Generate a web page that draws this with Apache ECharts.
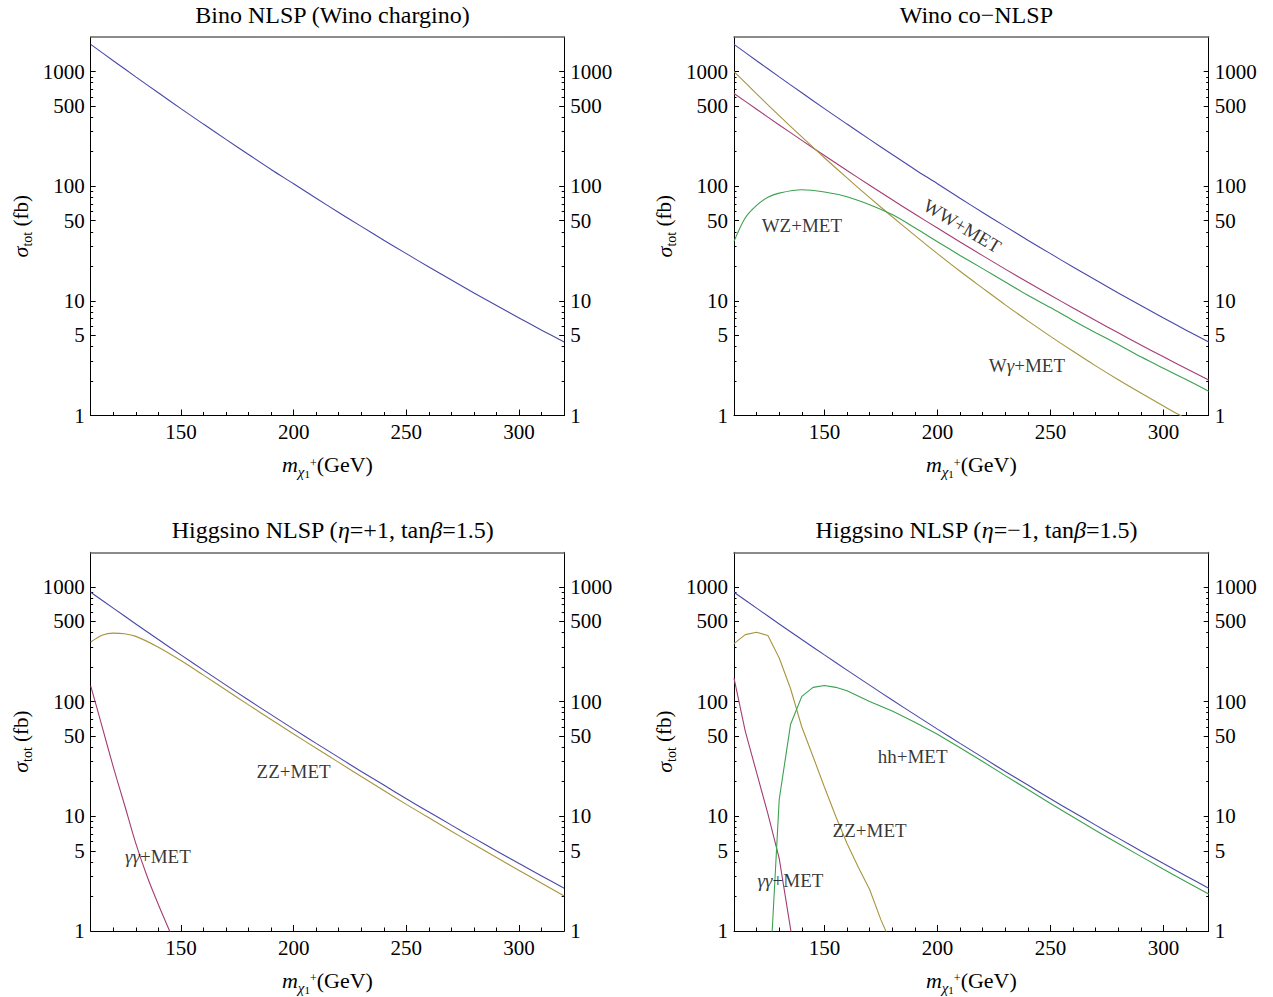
<!DOCTYPE html>
<html>
<head>
<meta charset="utf-8">
<script src="https://cdn.jsdelivr.net/npm/echarts@6/dist/echarts.min.js"></script>
<style>
  html, body { margin: 0; padding: 0; background: #fff; }
  #chart { width: 1273px; height: 997px; }
</style>
</head>
<body>
<div id="chart"></div>
<script>
// ---- axis ticks -----------------------------------------------------------
const yTickValues = [1, 5, 10, 50, 100, 500, 1000];
const yMinorValues = [2, 3, 4, 6, 7, 8, 9, 20, 30, 40, 60, 70, 80, 90, 200, 300, 400, 600, 700, 800, 900];
const xTickValues = [150, 200, 250, 300];

// ---- chargino mass grids (GeV) -------------------------------------------
const massGrid = [110, 120, 130, 140, 150, 160, 170, 180, 190, 200, 210, 220, 230, 240, 250, 260, 270, 280, 290, 300, 310, 320];
const massLowFine = [110, 115, 120, 125, 130, 140, 150, 160, 170, 180, 190, 200, 210, 220, 230, 240, 250, 260, 270, 280, 290, 300, 310, 320];
const massFine = [110, 115, 120, 125, 130, 135, 140, 145, 150, 155, 160, 165, 170, 175, 180];
const massGammaPlus = [110, 115, 120, 125, 130, 135, 140, 145, 150];
const massGammaMinus = [110, 115, 120, 125, 130, 135, 140];
const massHH = [125, 130, 135, 140, 145, 150, 155, 160, 170, 180, 190, 200, 210, 220, 230, 240, 250, 260, 270, 280, 290, 300, 310, 320];

// ---- cross sections (fb) --------------------------------------------------
// Wino-like chargino production (total)
const winoTotal = [1726, 1242, 898, 652, 475, 348, 256, 189, 140, 105, 78.4, 59.0, 44.6, 33.8, 25.8, 19.7, 15.2, 11.7, 9.1, 7.09, 5.55, 4.37];
// Wino co-NLSP channels
const winoWW = [644, 469, 342, 251, 185, 137, 102, 76.1, 57.1, 43.1, 32.6, 24.8, 18.9, 14.5, 11.2, 8.66, 6.73, 5.26, 4.12, 3.25, 2.57, 2.04];
const winoWgamma = [1000, 639, 412, 269, 177, 118, 79.5, 54.1, 37.2, 25.8, 18.1, 12.9, 9.23, 6.69, 4.9, 3.63, 2.71, 2.05, 1.57, 1.21, 0.94, 0.75];
const winoWZ = [33, 53, 68, 80, 87, 93, 89, 81, 69, 56.5, 43.4, 32.8, 24.9, 19.1, 14.6, 11.2, 8.73, 6.75, 5.28, 4.16, 3.25, 2.58, 2.06, 1.63];
// Higgsino-like production (total)
const higgsinoTotal = [897, 652, 475, 347, 255, 188, 139, 103, 76.9, 57.5, 43.2, 32.6, 24.6, 18.7, 14.2, 10.9, 8.37, 6.45, 4.99, 3.87, 3.02, 2.36];
// Higgsino NLSP, eta = +1
const zzPlus = [330, 378, 395, 390, 370, 298, 228, 170, 126, 93.5, 69.8, 52.2, 39.2, 29.5, 22.2, 16.8, 12.7, 9.7, 7.41, 5.68, 4.37, 3.37, 2.61, 2.02];
const gammaGammaPlus = [137, 61, 27, 12.6, 5.8, 3.0, 1.7, 1.0, 0.6];
// Higgsino NLSP, eta = -1
const zzMinus = [320, 383, 402, 376, 240, 130, 60, 33, 18, 10, 5.8, 3.6, 2.3, 1.25, 0.75];
const gammaGammaMinus = [160, 55, 24, 10.5, 4.3, 1.05, 0.22];
const hhMinus = [0.2, 14, 63, 111, 133, 138, 133, 124, 100, 82.6, 66.1, 51.8, 39.5, 30.0, 22.6, 17.1, 12.9, 9.86, 7.53, 5.8, 4.47, 3.46, 2.69, 2.10];

// ---- texts ------------------------------------------------------------------
const panelTitles = [
  'Bino NLSP (Wino chargino)',
  'Wino co\u2212NLSP',
  'Higgsino NLSP ({g|\u03b7}=+1, tan{g|\u03b2}=1.5)',
  'Higgsino NLSP ({g|\u03b7}=\u22121, tan{g|\u03b2}=1.5)'
];
const xAxisName = '{m|m}{c|\u03c7}{o|1}{p|+}(GeV)';
const yAxisName = '{s|\u03c3}{t|tot} (fb)';

// channel annotations: [panel, text, mass, cross section, rotation]
const channelNotes = [
  [1, 'WZ+MET', 140, 45, 0],
  [1, 'WW+MET', 211, 45, -31],
  [1, 'W{g|\u03b3}+MET', 239.6, 2.75, 0],
  [2, 'ZZ+MET', 200, 24.8, 0],
  [2, '{g|\u03b3\u03b3}+MET', 139.8, 4.5, 0],
  [3, 'hh+MET', 189, 33, 0],
  [3, 'ZZ+MET', 170, 7.5, 0],
  [3, '{g|\u03b3\u03b3}+MET', 135, 2.75, 0]
];

// ---- styling ------------------------------------------------------------------
const FONT = "'Liberation Serif', 'Times New Roman', 'DejaVu Serif', serif";
const C_TOTAL = '#4848aa';
const C_RED = '#a43c74';
const C_OLIVE = '#a8953f';
const C_GREEN = '#3ba04f';

const pairs = (m, v) => m.map((x, i) => [x, v[i]]);

const panels = [
  [
    { m: massGrid, v: winoTotal, color: C_TOTAL, smooth: 0.3 }
  ],
  [
    { m: massGrid, v: winoTotal, color: C_TOTAL, smooth: 0.3 },
    { m: massGrid, v: winoWW, color: C_RED, smooth: 0.3 },
    { m: massGrid, v: winoWgamma, color: C_OLIVE, smooth: 0.3 },
    { m: massLowFine, v: winoWZ, color: C_GREEN, smooth: 0.3 }
  ],
  [
    { m: massGrid, v: higgsinoTotal, color: C_TOTAL, smooth: 0.3 },
    { m: massLowFine, v: zzPlus, color: C_OLIVE, smooth: 0.3 },
    { m: massGammaPlus, v: gammaGammaPlus, color: C_RED, smooth: 0.3 }
  ],
  [
    { m: massGrid, v: higgsinoTotal, color: C_TOTAL, smooth: 0.3 },
    { m: massFine, v: zzMinus, color: C_OLIVE, smooth: false },
    { m: massGammaMinus, v: gammaGammaMinus, color: C_RED, smooth: false },
    { m: massHH, v: hhMinus, color: C_GREEN, smooth: false }
  ]
];

const frames = [
  { left: 90.7, top: 37, width: 473.5, height: 378.5 },
  { left: 734, top: 37, width: 474.7, height: 378.5 },
  { left: 90.7, top: 552.3, width: 473.5, height: 378.7 },
  { left: 734, top: 552.3, width: 474.7, height: 378.7 }
];

const nameRich = {
  s: { fontFamily: FONT, fontStyle: 'italic', fontSize: 22, lineHeight: 28, color: '#000' },
  t: { fontFamily: FONT, fontSize: 14, lineHeight: 20, verticalAlign: 'bottom', color: '#000' },
  m: { fontFamily: FONT, fontStyle: 'italic', fontSize: 22, lineHeight: 30, color: '#000' },
  c: { fontFamily: FONT, fontStyle: 'italic', fontSize: 15, lineHeight: 22, verticalAlign: 'bottom', color: '#000' },
  o: { fontFamily: FONT, fontSize: 11, lineHeight: 14, verticalAlign: 'bottom', color: '#000' },
  p: { fontFamily: FONT, fontSize: 12, verticalAlign: 'middle', padding: [0, 0, 4, 0], color: '#000' }
};

const tickLabel = { fontFamily: FONT, fontSize: 21, color: '#000', formatter: (v) => String(v) };
const blackLine = { color: '#000', width: 1 };

const option = {
  animation: false,
  backgroundColor: '#fff',
  title: [],
  grid: [],
  xAxis: [],
  yAxis: [],
  series: []
};

frames.forEach((f, g) => {
  option.grid.push({ left: f.left, top: f.top, width: f.width, height: f.height, containLabel: false });

  option.title.push({
    text: panelTitles[g],
    left: f.left + f.width / 2,
    top: f.top - 39,
    textAlign: 'center',
    textStyle: {
      fontFamily: FONT, fontSize: 24, fontWeight: 'normal', color: '#000',
      rich: { g: { fontFamily: FONT, fontSize: 24, fontStyle: 'italic', color: '#000' } }
    }
  });

  const xBase = option.xAxis.length;
  // bottom axis: minor ticks every 10 GeV and labels
  option.xAxis.push({
    gridIndex: g, type: 'value', position: 'bottom', min: 110, max: 320, interval: 10,
    axisLine: { show: true, onZero: false, lineStyle: blackLine },
    axisTick: { show: true, inside: true, length: 3.5, lineStyle: blackLine },
    axisLabel: { show: true, customValues: xTickValues, margin: 6, ...tickLabel },
    splitLine: { show: false },
    name: xAxisName, nameLocation: 'middle', nameGap: 34,
    nameTextStyle: { fontFamily: FONT, fontSize: 22, color: '#000', lineHeight: 30, rich: nameRich }
  });
  // bottom axis: major ticks every 50 GeV
  option.xAxis.push({
    gridIndex: g, type: 'value', position: 'bottom', min: 110, max: 320,
    axisLine: { show: false, onZero: false },
    axisTick: { show: true, inside: true, length: 6, customValues: xTickValues, lineStyle: blackLine },
    axisLabel: { show: false },
    splitLine: { show: false }
  });
  // top frame edge
  option.xAxis.push({
    gridIndex: g, type: 'value', position: 'top', min: 110, max: 320,
    axisLine: { show: true, onZero: false, lineStyle: { color: '#666', width: 1.5 } },
    axisTick: { show: false }, axisLabel: { show: false }, splitLine: { show: false }
  });

  const yBase = option.yAxis.length;
  ['left', 'right'].forEach((side) => {
    option.yAxis.push({
      gridIndex: g, type: 'log', logBase: 10, position: side, min: 1, max: 2000,
      axisLine: { show: true, onZero: false, lineStyle: blackLine },
      axisTick: { show: true, inside: true, length: 5, customValues: yTickValues, lineStyle: blackLine },
      axisLabel: { show: true, customValues: yTickValues, margin: 6, ...tickLabel },
      splitLine: { show: false },
      ...(side === 'left' ? {
        name: yAxisName, nameLocation: 'middle', nameRotate: 90, nameGap: 56,
        nameTextStyle: { fontFamily: FONT, fontSize: 21, color: '#000', lineHeight: 28, rich: nameRich }
      } : {})
    });
    option.yAxis.push({
      gridIndex: g, type: 'log', logBase: 10, position: side, min: 1, max: 2000,
      axisLine: { show: false, onZero: false },
      axisTick: { show: true, inside: true, length: 2.5, customValues: yMinorValues, lineStyle: blackLine },
      axisLabel: { show: false },
      splitLine: { show: false }
    });
  });

  panels[g].forEach((c) => {
    option.series.push({
      type: 'line', xAxisIndex: xBase, yAxisIndex: yBase,
      data: pairs(c.m, c.v), showSymbol: false, symbol: 'none',
      smooth: c.smooth, clip: true, silent: true,
      lineStyle: { color: c.color, width: 1.1 }, z: 3
    });
  });

  const notes = channelNotes.filter((n) => n[0] === g);
  if (notes.length) {
    option.series.push({
      type: 'scatter', xAxisIndex: xBase, yAxisIndex: yBase, symbolSize: 0, silent: true, z: 4,
      data: notes.map((n) => ({ name: n[1], value: [n[2], n[3]], label: { rotate: n[4] } })),
      label: {
        show: true, position: 'inside', formatter: (p) => p.name,
        fontFamily: FONT, fontSize: 19, color: '#000',
        rich: { g: { fontFamily: FONT, fontSize: 19, fontStyle: 'italic', color: '#000' } }
      }
    });
  }
});

const chart = echarts.init(document.getElementById('chart'), null, { renderer: 'svg', width: 1273, height: 997 });
chart.setOption(option);
</script>
</body>
</html>
